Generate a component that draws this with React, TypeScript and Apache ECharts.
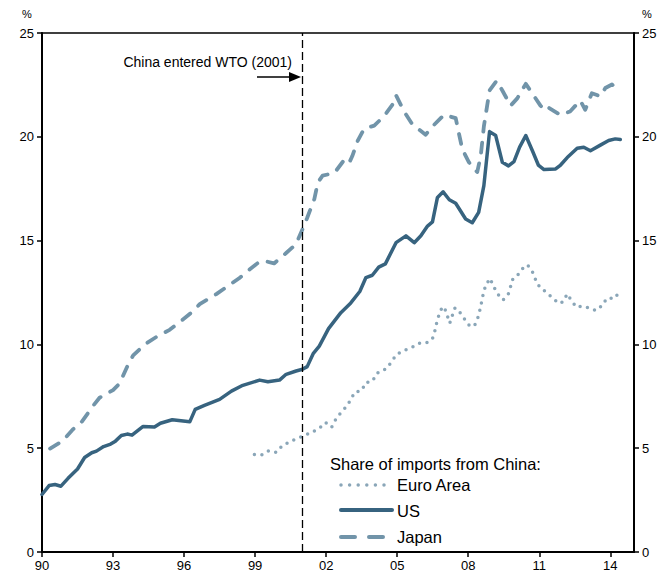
import React, { useEffect, useRef } from "react";
import * as echarts from "echarts";

// ---- Data ----
const usYears = [
  1990.0, 1990.3, 1990.55, 1990.8, 1991.1, 1991.5, 1991.8, 1992.1, 1992.3, 1992.6,
  1992.9, 1993.1, 1993.35, 1993.6, 1993.8, 1994.27, 1994.75, 1995.0, 1995.5, 1996.24,
  1996.47, 1996.86, 1997.5, 1998.0, 1998.48, 1999.19, 1999.54, 2000.03, 2000.31, 2000.73,
  2001.0, 2001.2, 2001.46, 2001.71, 2002.1, 2002.62, 2003.04, 2003.42, 2003.68, 2003.95,
  2004.22, 2004.5, 2004.95, 2005.37, 2005.72, 2006.0, 2006.28, 2006.49, 2006.7, 2006.94,
  2007.2, 2007.47, 2007.89, 2008.17, 2008.44, 2008.66, 2008.9, 2009.16, 2009.44, 2009.7,
  2009.93, 2010.17, 2010.43, 2010.71, 2010.96, 2011.2, 2011.69, 2011.9, 2012.18, 2012.6,
  2012.88, 2013.16, 2013.58, 2013.93, 2014.21, 2014.42,
];
const usValues = [
  2.77, 3.2, 3.25, 3.17, 3.55, 4.0, 4.55, 4.78, 4.86, 5.08,
  5.2, 5.34, 5.61, 5.68, 5.63, 6.05, 6.02, 6.2, 6.37, 6.27,
  6.87, 7.06, 7.35, 7.75, 8.03, 8.28, 8.2, 8.28, 8.56, 8.72,
  8.8, 8.93, 9.57, 9.92, 10.76, 11.53, 12.0, 12.55, 13.22, 13.33,
  13.72, 13.88, 14.9, 15.23, 14.9, 15.23, 15.7, 15.9, 17.08, 17.35,
  16.97, 16.8, 16.04, 15.86, 16.36, 17.65, 20.25, 20.06, 18.77, 18.6,
  18.8, 19.5, 20.06, 19.33, 18.64, 18.42, 18.45, 18.64, 19.0, 19.45,
  19.5, 19.33, 19.6, 19.82, 19.9, 19.87,
];

const japanYears = [
  1990.34, 1990.86, 1991.3, 1991.7, 1992.15, 1992.43, 1993.0, 1993.28, 1993.64, 1993.85,
  1994.34, 1994.83, 1995.39, 1995.95, 1996.38, 1996.66, 1997.36, 1997.7, 1998.34, 1998.76,
  1999.2, 1999.46, 1999.8, 2000.31, 2000.73, 2001.0, 2001.2, 2001.5, 2001.65, 2001.85,
  2002.35, 2002.77, 2002.97, 2003.1, 2003.33, 2003.6, 2004.03, 2004.45, 2004.8, 2004.95,
  2005.3, 2005.64, 2006.2, 2006.49, 2006.98, 2007.47, 2007.61, 2007.75, 2008.03, 2008.38,
  2008.53, 2008.66, 2008.9, 2009.2, 2009.44, 2009.79, 2010.07, 2010.43, 2010.7, 2011.05,
  2011.27, 2011.4, 2011.9, 2012.3, 2012.73, 2012.94, 2013.22, 2013.58, 2013.79, 2014.07,
  2014.28,
];
const japanValues = [
  4.98, 5.34, 5.9, 6.3, 7.03, 7.43, 7.8, 8.12, 9.04, 9.47,
  10.0, 10.36, 10.7, 11.2, 11.6, 11.94, 12.42, 12.69, 13.2, 13.6,
  14.0, 14.0, 13.9, 14.4, 14.83, 15.55, 16.1, 17.0, 17.8, 18.13,
  18.26, 18.9, 18.74, 19.06, 19.8, 20.38, 20.54, 21.0, 21.55, 22.0,
  21.2, 20.6, 20.1, 20.5, 21.06, 20.9, 20.14, 19.4, 18.77, 18.3,
  19.1, 20.5, 22.23, 22.7, 22.23, 21.5, 21.85, 22.55, 22.1, 21.5,
  21.27, 21.4, 21.05, 21.22, 21.75, 21.3, 22.1, 21.95, 22.35, 22.52,
  22.3,
];

const euroYears = [
  1998.97, 1999.3, 1999.57, 1999.9, 2000.13, 2000.45, 2000.73, 2001.08, 2001.4, 2001.7,
  2001.97, 2002.23, 2002.4, 2002.62, 2002.85, 2003.05, 2003.2, 2003.5, 2003.67, 2003.96,
  2004.13, 2004.35, 2004.56, 2004.77, 2004.97, 2005.3, 2005.6, 2005.93, 2006.25, 2006.49,
  2006.59, 2006.67, 2006.77, 2006.91, 2007.0, 2007.12, 2007.22, 2007.33, 2007.44, 2007.64,
  2007.85, 2008.06, 2008.26, 2008.4, 2008.49, 2008.57, 2008.64, 2008.74, 2008.92, 2009.06,
  2009.23, 2009.47, 2009.69, 2009.79, 2009.89, 2010.12, 2010.31, 2010.5, 2010.71, 2010.85,
  2011.0, 2011.3, 2011.58, 2011.83, 2012.0, 2012.18, 2012.36, 2012.57, 2012.8, 2013.09,
  2013.4, 2013.67, 2013.85, 2014.2, 2014.4,
];
const euroValues = [
  4.7, 4.68, 4.87, 4.8, 5.1, 5.31, 5.45, 5.61, 5.77, 5.95,
  6.24, 6.01, 6.38, 6.71, 7.0, 7.35, 7.7, 7.77, 8.16, 8.23,
  8.6, 8.72, 8.85, 9.18, 9.52, 9.71, 9.84, 10.05, 10.08, 10.28,
  10.65, 11.05, 11.45, 11.82, 11.76, 11.37, 11.02, 11.4, 11.76, 11.55,
  11.21, 10.89, 10.89, 11.26, 11.65, 12.07, 12.47, 12.85, 13.18, 12.82,
  12.45, 12.14, 12.42, 12.79, 13.18, 13.38, 13.67, 13.83, 13.5, 13.1,
  12.79, 12.5, 12.22, 11.97, 12.05, 12.43, 12.1, 11.79, 11.84, 11.76,
  11.63, 11.89, 12.22, 12.22, 12.6,
];

const wtoYear = 2001;
const xMin = 1990;
const xMax = 2015;
const xInterval = 3;
const yTicks = [0, 5, 10, 15, 20, 25];

const seriesNames = ["Euro Area", "US", "Japan"];
const legendTitle = "Share of imports from China:";
const annotationText = "China entered WTO (2001)";

const COLOR_US = "#37637f";
const COLOR_JP = "#7194a9";
const COLOR_EU = "#8aa6b8";
const FONT = "Liberation Sans, Arial, sans-serif";

function pairs(xs: number[], ys: number[]) {
  return xs.map((x, i) => [x, ys[i]]);
}

export default function App() {
  const ref = useRef<HTMLDivElement>(null);

  useEffect(() => {
    if (!ref.current) return;
    const chart = echarts.init(ref.current, undefined, { renderer: "svg" });

    const yAxisBase = {
      type: "value",
      min: yTicks[0],
      max: yTicks[yTicks.length - 1],
      interval: 5,
      splitLine: { show: false },
      axisLine: { show: true, lineStyle: { color: "#000", width: 2 } },
      axisTick: { show: true, inside: false, length: 5, lineStyle: { color: "#000", width: 1.5 } },
      axisLabel: { color: "#000", fontSize: 13, fontFamily: FONT, margin: 8 },
    };

    chart.setOption({
      animation: false,
      backgroundColor: "#fff",
      grid: {
        left: 42,
        right: 37,
        top: 33,
        bottom: 21,
        show: true,
        borderColor: "#000",
        borderWidth: 1.5,
        containLabel: false,
      },
      xAxis: {
        type: "value",
        min: xMin,
        max: xMax,
        interval: xInterval,
        splitLine: { show: false },
        axisLine: { show: true, lineStyle: { color: "#000", width: 2 } },
        axisTick: { show: true, length: 5, lineStyle: { color: "#000", width: 1.5 } },
        axisLabel: {
          color: "#000",
          fontSize: 13,
          fontFamily: FONT,
          margin: 7,
          showMaxLabel: false,
          formatter: (v: number) => String(Math.round(v) % 100).padStart(2, "0"),
        },
      },
      yAxis: [
        { ...yAxisBase, position: "left" },
        { ...yAxisBase, position: "right" },
      ],
      series: [
        {
          name: seriesNames[0],
          type: "line",
          data: pairs(euroYears, euroValues),
          showSymbol: false,
          symbol: "none",
          lineStyle: { color: COLOR_EU, width: 3.5, type: [0, 7.5], cap: "round", join: "round" },
          z: 2,
        },
        {
          name: seriesNames[1],
          type: "line",
          data: pairs(usYears, usValues),
          showSymbol: false,
          symbol: "none",
          lineStyle: { color: COLOR_US, width: 3.5, cap: "round", join: "round" },
          z: 4,
          markLine: {
            silent: true,
            symbol: "none",
            label: { show: false },
            lineStyle: { color: "#000", width: 1.3, type: [8, 4] },
            data: [{ xAxis: wtoYear }],
          },
        },
        {
          name: seriesNames[2],
          type: "line",
          data: pairs(japanYears, japanValues),
          showSymbol: false,
          symbol: "none",
          lineStyle: { color: COLOR_JP, width: 3.8, type: [10, 11], cap: "round", join: "round" },
          z: 3,
        },
      ],
      graphic: [
        // % labels
        { type: "text", left: 22, top: 8, style: { text: "%", fontSize: 11, fontFamily: FONT, fill: "#000" } },
        { type: "text", left: 642, top: 8, style: { text: "%", fontSize: 11, fontFamily: FONT, fill: "#000" } },
        // annotation
        {
          type: "text",
          x: 292,
          y: 62,
          style: {
            text: annotationText,
            fontSize: 14,
            fontFamily: FONT,
            fill: "#000",
            align: "right",
            verticalAlign: "middle",
          },
        },
        {
          type: "line",
          shape: { x1: 257, y1: 77, x2: 291, y2: 77 },
          style: { stroke: "#000", lineWidth: 1.5 },
        },
        {
          type: "polygon",
          shape: { points: [[289, 72], [301, 77], [289, 82]] },
          style: { fill: "#000" },
        },
        // legend
        {
          type: "text",
          x: 330,
          y: 464,
          style: { text: legendTitle, fontSize: 16.5, fontFamily: FONT, fill: "#000", verticalAlign: "middle" },
        },
        {
          type: "line",
          shape: { x1: 341, y1: 485, x2: 392, y2: 485 },
          style: { stroke: COLOR_EU, lineWidth: 3.5, lineDash: [0, 8.6], lineCap: "round" },
        },
        {
          type: "text",
          x: 397,
          y: 485,
          style: { text: seriesNames[0], fontSize: 16.5, fontFamily: FONT, fill: "#000", verticalAlign: "middle" },
        },
        {
          type: "line",
          shape: { x1: 341, y1: 510, x2: 392, y2: 510 },
          style: { stroke: COLOR_US, lineWidth: 4, lineCap: "round" },
        },
        {
          type: "text",
          x: 397,
          y: 511,
          style: { text: seriesNames[1], fontSize: 16.5, fontFamily: FONT, fill: "#000", verticalAlign: "middle" },
        },
        {
          type: "line",
          shape: { x1: 341, y1: 537, x2: 392, y2: 537 },
          style: { stroke: COLOR_JP, lineWidth: 4, lineDash: [14, 14], lineCap: "round" },
        },
        {
          type: "text",
          x: 397,
          y: 537,
          style: { text: seriesNames[2], fontSize: 16.5, fontFamily: FONT, fill: "#000", verticalAlign: "middle" },
        },
      ],
    });

    return () => chart.dispose();
  }, []);

  return (
    <div
      ref={ref}
      style={{ position: "fixed", left: 0, top: 0, width: 671, height: 573, background: "#fff" }}
    />
  );
}
